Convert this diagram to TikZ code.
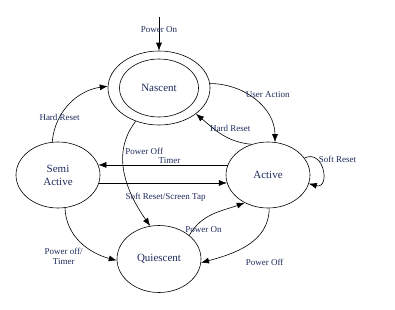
\documentclass[tikz,border=0pt]{standalone}
\usepackage{fontspec}
\setmainfont{Liberation Serif}
\usepackage{xcolor}
\usetikzlibrary{arrows.meta}
\usetikzlibrary{shapes.geometric, positioning}

\definecolor{labelblue}{RGB}{30,42,92}

\tikzset{
  state/.style={draw, ellipse, line width=0.6pt, text=labelblue, align=center,
    minimum width=84pt, minimum height=66pt, inner sep=0pt, font=\fontsize{11}{13}\selectfont},
  trans/.style={-{Latex[length=8pt,width=6pt]}, line width=0.6pt},
  lbl/.style={text=labelblue, font=\fontsize{9}{10}\selectfont, inner sep=1pt, align=center}
}

\begin{document}
\begin{tikzpicture}[x=1pt,y=1pt]
\useasboundingbox (0,0) rectangle (395,309);

% states
\node[state, minimum width=102pt, minimum height=74pt] (nascent) at (159,221) {};
\node[state, minimum width=79pt, minimum height=58pt] (nascentin) at (159,221) {Nascent};
\node[state] (semi) at (58,134) {Semi\\Active};
\node[state] (active) at (268,134) {Active};
\node[state, minimum height=67pt] (quiescent) at (159,50) {Quiescent};
\coordinate (start) at (159,292);

% transitions
\draw[trans] (start) -- node[lbl, pos=0.38] {Power On} (nascent.north);
\draw[trans] (semi.100) to[out=85, in=188] node[lbl, pos=0.3] {Hard Reset} (nascent.178);
\draw[trans] (nascent.5) to[out=0, in=90] node[lbl, pos=0.45, above right=-2pt and -7pt] {User Action} (active.78);
\draw[trans] (active.118) to[out=175, in=-40] node[lbl, pos=0.4, above right=4pt and -18pt] {Hard Reset} (nascent.-35);
\draw[trans] (nascent.-125) to[out=232, in=125] node[lbl, pos=0.3, right=1pt] {Power Off} (quiescent.105);
\draw[trans] (active.166) -- node[lbl, pos=0.45, above] {Timer} (semi.14);
\draw[trans] (semi.-11) -- node[lbl, pos=0.52, below=9pt] {Soft Reset/Screen Tap} (active.191);
\draw[trans] (active.25) to[out=25, in=-15, looseness=2.2] node[lbl, pos=0.25, above right=-5pt and 1pt] {Soft Reset} (active.-12);
\draw[trans] (semi.-78) to[out=-88, in=165] node[lbl, pos=0.75, left=5pt, xshift=-8pt, yshift=-3pt] {Power off/\\Timer} (quiescent.182);
\draw[trans] (quiescent.38) to[out=60, in=200] node[lbl, pos=0.2, xshift=6pt, yshift=-5pt] {Power On} (active.-130);
\draw[trans] (active.-88) to[out=-90, in=15] node[lbl, pos=0.5, below right=13pt and -3pt] {Power Off} (quiescent.-5);
\end{tikzpicture}
\end{document}
